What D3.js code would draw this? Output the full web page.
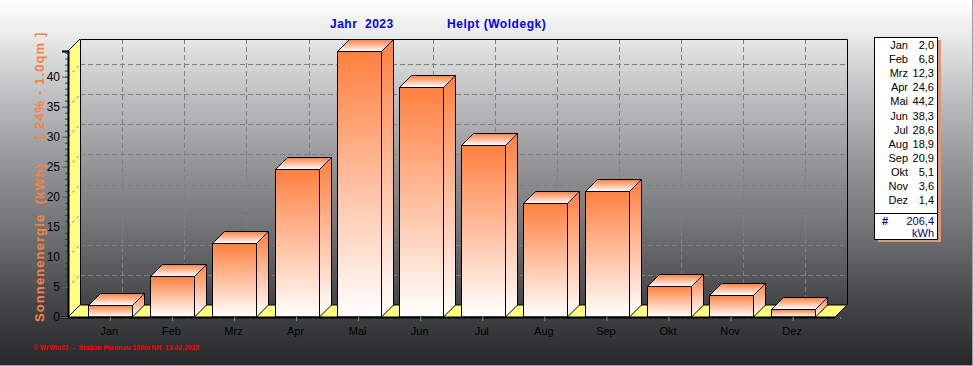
<!DOCTYPE html>
<html>
<head>
<meta charset="utf-8">
<script src="https://cdn.jsdelivr.net/npm/d3@7"></script>
<style>
html, body { margin: 0; padding: 0; background: #fff; }
svg { display: block; font-family: "Liberation Sans", Arial, sans-serif; }
</style>
</head>
<body>
<div id="chart"></div>
<script>
const width = 973;
const height = 366;

const months = ["Jan", "Feb", "Mrz", "Apr", "Mai", "Jun", "Jul", "Aug", "Sep", "Okt", "Nov", "Dez"];
const energy = [2.0, 6.8, 12.3, 24.6, 44.2, 38.3, 28.6, 18.9, 20.9, 5.1, 3.6, 1.4];
const yTicks = [0, 5, 10, 15, 20, 25, 30, 35, 40];
const backgroundStops = [[0, "#ffffff"], [0.03, "#f8f8f8"], [0.1, "#e8e9e9"], [0.27, "#bcbdbe"], [0.46, "#929395"], [0.63, "#717274"], [0.82, "#45474a"], [1, "#25272a"]];
const titleYear = "Jahr  2023";
const titleStation = "Helpt (Woldegk)";
const yTitle = "Sonnenenergie  (kWh)     [ 24% - 1.0qm ]";
const footer = "© WrWin32  -  Station Paronou 100m NN  15.02.2025";
const totalLabel = "206,4";
const unitLabel = "kWh";

const depth = 12;
const plotLeft = 68, plotRight = 835, plotBottom = 317, plotTop = 51;

const fmt = v => d3.format(".1f")(v).replace(".", ",");

const y = d3.scaleLinear().domain([0, 44.26]).range([plotBottom, plotTop]);
const x = d3.scaleBand().domain(months).range([79, 824.5]).paddingInner(0.29).paddingOuter(0.15);
const gridY = d => Math.round(y(d) - 0.3) - depth + 0.5;

const svg = d3.select("#chart").append("svg").attr("width", width).attr("height", height);
const defs = svg.append("defs");

function gradient(id, stops) {
    const g = defs.append("linearGradient").attr("id", id)
        .attr("x1", 0).attr("y1", 0).attr("x2", 0).attr("y2", 1);
    stops.forEach(s => g.append("stop").attr("offset", s[0]).attr("stop-color", s[1]));
}
gradient("bg", backgroundStops);
gradient("barFront", [[0, "#ff8040"], [1, "#ffffff"]]);
gradient("barTop", [[0, "#ff8040"], [1, "#ffffff"]]);

svg.append("rect").attr("width", width).attr("height", height).attr("fill", "url(#bg)");
// window edge
svg.append("rect").attr("x", 0).attr("y", 365).attr("width", width).attr("height", 1).attr("fill", "#a0a0a0");
svg.append("rect").attr("x", 972).attr("y", 0).attr("width", 1).attr("height", height).attr("fill", "#a0a0a0");

// back wall grid
const plot = svg.append("g");
plot.selectAll("line.h").data(yTicks.slice(1)).join("line").attr("class", "h")
    .attr("x1", plotLeft + depth).attr("x2", plotRight + depth)
    .attr("y1", gridY).attr("y2", gridY)
    .attr("stroke", "#808080").attr("stroke-dasharray", "5,3");
plot.selectAll("line.v").data(months).join("line").attr("class", "v")
    .attr("x1", d => Math.round(x(d) + x.bandwidth() / 2) + depth + 0.5)
    .attr("x2", d => Math.round(x(d) + x.bandwidth() / 2) + depth + 0.5)
    .attr("y1", plotTop - depth).attr("y2", plotBottom - depth)
    .attr("stroke", "#808080").attr("stroke-dasharray", "5,3");
plot.append("path")
    .attr("d", `M${plotLeft + depth + 0.5},${plotBottom - depth}V${plotTop - depth + 0.5}H${plotRight + depth + 0.5}V${plotBottom - depth}`)
    .attr("fill", "none").attr("stroke", "#000").attr("stroke-width", 1);

// left wall and floor
plot.append("path")
    .attr("d", `M${plotLeft},${plotBottom}V${plotTop}L${plotLeft + depth},${plotTop - depth}V${plotBottom - depth}Z`)
    .attr("fill", "#ffff80");
plot.selectAll("line.d").data(yTicks.slice(1)).join("line").attr("class", "d")
    .attr("x1", plotLeft).attr("x2", plotLeft + depth)
    .attr("y1", d => y(d)).attr("y2", d => y(d) - depth)
    .attr("stroke", "#808080").attr("stroke-dasharray", "3,3");
plot.append("path")
    .attr("d", `M${plotLeft},${plotBottom}L${plotLeft + depth},${plotBottom - depth}H${plotRight + depth}L${plotRight},${plotBottom}Z`)
    .attr("fill", "#ffff80");
plot.append("path")
    .attr("d", `M${plotLeft},${plotBottom}L${plotLeft + depth},${plotBottom - depth}M${plotRight},${plotBottom}L${plotRight + depth},${plotBottom - depth}M${plotLeft + depth + 0.5},${plotBottom - depth}H${plotRight + depth}`)
    .attr("stroke", "#000").attr("fill", "none");
plot.append("path")
    .attr("d", `M${plotLeft},${plotTop}L${plotLeft + depth},${plotTop - depth}`)
    .attr("fill", "none").attr("stroke", "#000");

// bars
const bars = svg.append("g").selectAll("g").data(energy).join("g")
    .attr("stroke", "#000").attr("stroke-linejoin", "round");
const bx = (d, i) => Math.round(x(months[i])) + 0.5;
const bw = Math.round(x.bandwidth());
bars.append("path").attr("fill", "url(#barFront)")
    .attr("d", (d, i) => `M${bx(d, i) + bw},${plotBottom}V${Math.round(y(d)) + 0.5}l${depth},${-depth}V${plotBottom - depth}Z`);
bars.append("path").attr("fill", "url(#barTop)")
    .attr("d", (d, i) => `M${bx(d, i)},${Math.round(y(d)) + 0.5}l${depth},${-depth}h${bw}l${-depth},${depth}Z`);
bars.append("rect").attr("fill", "url(#barFront)")
    .attr("x", bx).attr("y", d => Math.round(y(d)) + 0.5)
    .attr("width", bw).attr("height", d => plotBottom - Math.round(y(d)) - 0.5);

// axes
const yMinor = svg.append("g").attr("transform", `translate(${plotLeft},0)`)
    .call(d3.axisLeft(y).tickValues(d3.range(1, 45)).tickSize(3).tickFormat(""));
yMinor.select(".domain").remove();
yMinor.selectAll("line").attr("stroke", "#404040");

const yAxis = svg.append("g").attr("transform", `translate(${plotLeft},0)`)
    .call(d3.axisLeft(y).tickValues(yTicks).tickSize(6).tickPadding(2).tickFormat(d3.format("d")));
yAxis.select(".domain").attr("stroke", "#000").attr("stroke-width", 2);
yAxis.selectAll("line").attr("stroke", "#606060");
yAxis.selectAll("text").attr("font-size", 12).attr("fill", "#000");

// quarter ticks between the month ticks
const xCenter = m => x(m) + x.bandwidth() / 2;
const quarter = x.step() / 4;
svg.append("g").selectAll("line").data(months.flatMap(m => [-1, 1, 2, 3].map(k => xCenter(m) + k * quarter))).join("line")
    .attr("x1", d => Math.round(d) + 0.5).attr("x2", d => Math.round(d) + 0.5)
    .attr("y1", plotBottom).attr("y2", plotBottom + 2)
    .attr("stroke", "#808080");

const xAxis = svg.append("g").attr("transform", `translate(0,${plotBottom})`)
    .call(d3.axisBottom(x).tickSize(4).tickPadding(6));
xAxis.select(".domain").attr("d", `M${plotLeft},0.5H${plotRight}`).attr("stroke", "#000").attr("stroke-width", 2);
xAxis.selectAll("line").attr("stroke", "#909090");
xAxis.selectAll("text").attr("font-size", 11).attr("fill", "#000").attr("dx", -1);

// titles
svg.append("text").attr("x", 330).attr("y", 28).attr("fill", "#0000ff").attr("font-size", 12).attr("font-weight", "bold")
    .style("white-space", "pre").attr("letter-spacing", 0.5).text(titleYear);
svg.append("text").attr("x", 447).attr("y", 28).attr("fill", "#0000ff").attr("font-size", 12).attr("font-weight", "bold")
    .attr("letter-spacing", 0.55).text(titleStation);
svg.append("text").attr("transform", "translate(44,322) rotate(-90)").attr("fill", "#ff8040")
    .attr("font-size", 13).attr("font-weight", "bold").attr("letter-spacing", 1.1)
    .style("white-space", "pre").text(yTitle);
svg.append("text").attr("x", 33).attr("y", 350).attr("fill", "#ff0000").attr("font-size", 6.5).attr("font-weight", "bold")
    .attr("letter-spacing", 0.13).style("white-space", "pre").text(footer);

// legend box
const legendX = 875, legendY = 37, legendW = 63, legendH = 202;
svg.append("rect").attr("x", legendX + 3).attr("y", legendY + 3).attr("width", legendW).attr("height", legendH).attr("fill", "#d9987a");
svg.append("rect").attr("x", legendX - 0.5).attr("y", legendY + 0.5).attr("width", legendW).attr("height", legendH)
    .attr("fill", "#fff").attr("stroke", "#000");
svg.append("line").attr("x1", legendX).attr("x2", legendX + legendW).attr("y1", 213.5).attr("y2", 213.5).attr("stroke", "#000");
const rows = svg.append("g").selectAll("g").data(months).join("g")
    .attr("font-size", 11).attr("fill", "#000").attr("text-anchor", "end");
rows.append("text").attr("x", legendX + 33).attr("y", (d, i) => legendY + 12 + i * 14.1).text(d => d);
rows.append("text").attr("x", legendX + 59).attr("y", (d, i) => legendY + 12 + i * 14.1).text((d, i) => fmt(energy[i]));
svg.append("text").attr("x", legendX + 7).attr("y", 225).attr("fill", "#000080").attr("font-size", 11).attr("font-weight", "bold").text("#");
svg.append("text").attr("x", legendX + 59).attr("y", 225).attr("fill", "#000080").attr("font-size", 11).attr("text-anchor", "end").text(totalLabel);
svg.append("text").attr("x", legendX + 59).attr("y", 237).attr("fill", "#000080").attr("font-size", 11).attr("text-anchor", "end").text(unitLabel);
</script>
</body>
</html>
